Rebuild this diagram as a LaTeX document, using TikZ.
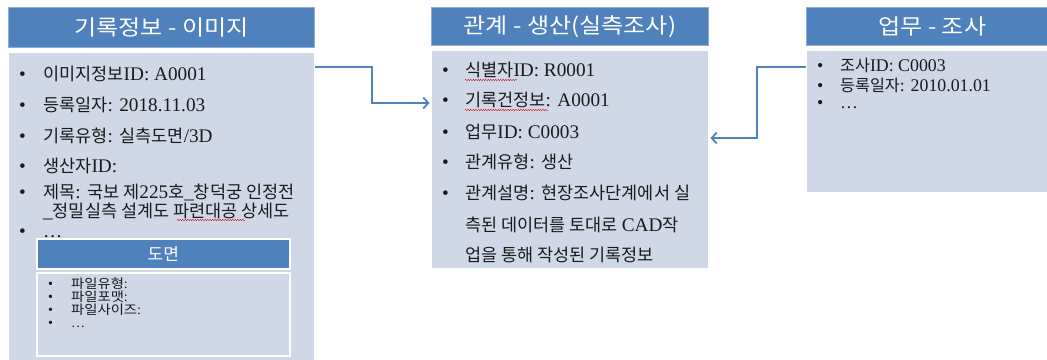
\documentclass[tikz,border=0pt]{standalone}
\usepackage{fontspec}
\setmainfont{Noto Sans CJK KR}
\newfontfamily\krwide[FakeStretch=1.12]{Noto Sans CJK KR}
\newfontfamily\lafont[Scale=1.1]{Liberation Serif}
\newcommand\la[1]{{\lafont #1}}
\newcommand\bul{\makebox[24pt][l]{\la{•}}}
\newcommand\bulm{\makebox[23pt][l]{\la{•}}}
\usetikzlibrary{arrows.meta,decorations.pathmorphing}
\definecolor{hdr}{HTML}{4F81BD}
\definecolor{bodyc}{HTML}{D0D8E8}
\definecolor{txt}{HTML}{1A1A1A}
\begin{document}
\begin{tikzpicture}[x=1pt,y=-1pt,
  hdrbox/.style={fill=hdr, draw=hdr!65!white, line width=0.8pt, anchor=north west, inner sep=0pt, text=white, font=\krwide\fontsize{21.5}{25}\selectfont},
  shdrbox/.style={fill=hdr, draw=white, line width=1.5pt, anchor=north west, inner sep=0pt, text=white, font=\fontsize{17}{20}\selectfont},
  bodybox/.style={fill=bodyc, draw=white, line width=1pt, anchor=north west, inner sep=0pt},
  sbodybox/.style={fill=bodyc, draw=white, line width=1.5pt, anchor=north west, inner sep=0pt},
  item/.style={anchor=base west, inner sep=0pt, text=txt, font=\fontsize{17.5}{21}\selectfont},
  ritem/.style={item, font=\fontsize{16.2}{19}\selectfont},
  sitem/.style={item, font=\krwide\fontsize{12.8}{14}\selectfont},
  link/.style={draw=hdr, line width=1.8pt, -{Straight Barb[length=5pt,width=11pt]}},
  squig/.style={draw=red!80!black, line width=0.4pt, decorate, decoration={snake, amplitude=0.6pt, segment length=2.5pt}}
]
\useasboundingbox (0,0) rectangle (1047,359);
\clip (0,0) rectangle (1047,359);
\fill[white] (0,0) rectangle (1047,359);

% left box
\node[hdrbox, minimum width=306, minimum height=40] (lhdr) at (8,7) {기록정보 - 이미지};
\node[bodybox, minimum width=306, minimum height=313] (lbody) at (8,52) {};
\node[item] (l1) at (19,80) {\bul 이미지정보\la{ID: A0001}};
\node[item] (l2) at (19,111) {\bul 등록일자\la{: 2018.11.03}};
\node[item] (l3) at (19,142) {\bul 기록유형\la{: }실측도면\la{/3D}};
\node[item] (l4) at (19,172) {\bul 생산자\la{ID:}};
\node[item] (l5) at (19,198) {\bul 제목\la{: }국보 제\la{225}호\la{\_}창덕궁 인정전};
\node[item] (l6) at (43,217) {\la{\_}정밀실측 설계도 파련대공 상세도};
\node[item] (l7) at (19,237) {\bul\la{…}};
\draw[squig] (177,220) -- (245,220);

% sub box
\node[shdrbox, minimum width=253, minimum height=30] (shdr) at (36,238) {도면};
\node[sbodybox, minimum width=253, minimum height=83] (sbody) at (36,272) {};
\node[sitem] (s1) at (48,288) {\bulm 파일유형\la{:}};
\node[sitem] (s2) at (48,301) {\bulm 파일포맷\la{:}};
\node[sitem] (s3) at (48,314) {\bulm 파일사이즈\la{:}};
\node[sitem] (s4) at (48,327) {\bulm\la{…}};

% middle box
\node[hdrbox, minimum width=277, minimum height=38] (mhdr) at (431,7) {관계 - 생산(실측조사)};
\node[bodybox, minimum width=277, minimum height=218] (mbody) at (431,50) {};
\node[item] (m1) at (442,76) {\bulm 식별자\la{ID: R0001}};
\node[item] (m2) at (442,106) {\bulm 기록건정보\la{: A0001}};
\node[item] (m3) at (442,138) {\bulm 업무\la{ID: C0003}};
\node[item] (m4) at (442,168) {\bulm 관계유형\la{: }생산};
\node[item] (m5) at (442,199) {\bulm 관계설명\la{: }현장조사단계에서 실};
\node[item] (m6) at (465,231) {측된 데이터를 토대로 \la{CAD}작};
\node[item] (m7) at (465,261) {업을 통해 작성된 기록정보};
\draw[squig] (465,80) -- (517,80);
\draw[squig] (465,110) -- (548,110);

% right box
\node[hdrbox, minimum width=252, minimum height=38] (rhdr) at (806,7) {업무 - 조사};
\node[bodybox, minimum width=252, minimum height=142] (rbody) at (806,50) {};
\node[ritem] (r1) at (817,71) {\bulm 조사\la{ID: C0003}};
\node[ritem] (r2) at (817,91) {\bulm 등록일자\la{: 2010.01.01}};
\node[ritem] (r3) at (817,108) {\bulm\la{…}};

% connectors
\coordinate (e1) at (372,67);
\coordinate (e2) at (372,103);
\draw[link, shorten >=1.5pt] (lbody.east |- e1) -- (e1) -- (e2) -- (mbody.west |- e2);
\coordinate (f1) at (757,67);
\coordinate (f2) at (757,138);
\draw[link, shorten >=1.5pt] (rbody.west |- f1) -- (f1) -- (f2) -- (mbody.east |- f2);
\end{tikzpicture}
\end{document}
